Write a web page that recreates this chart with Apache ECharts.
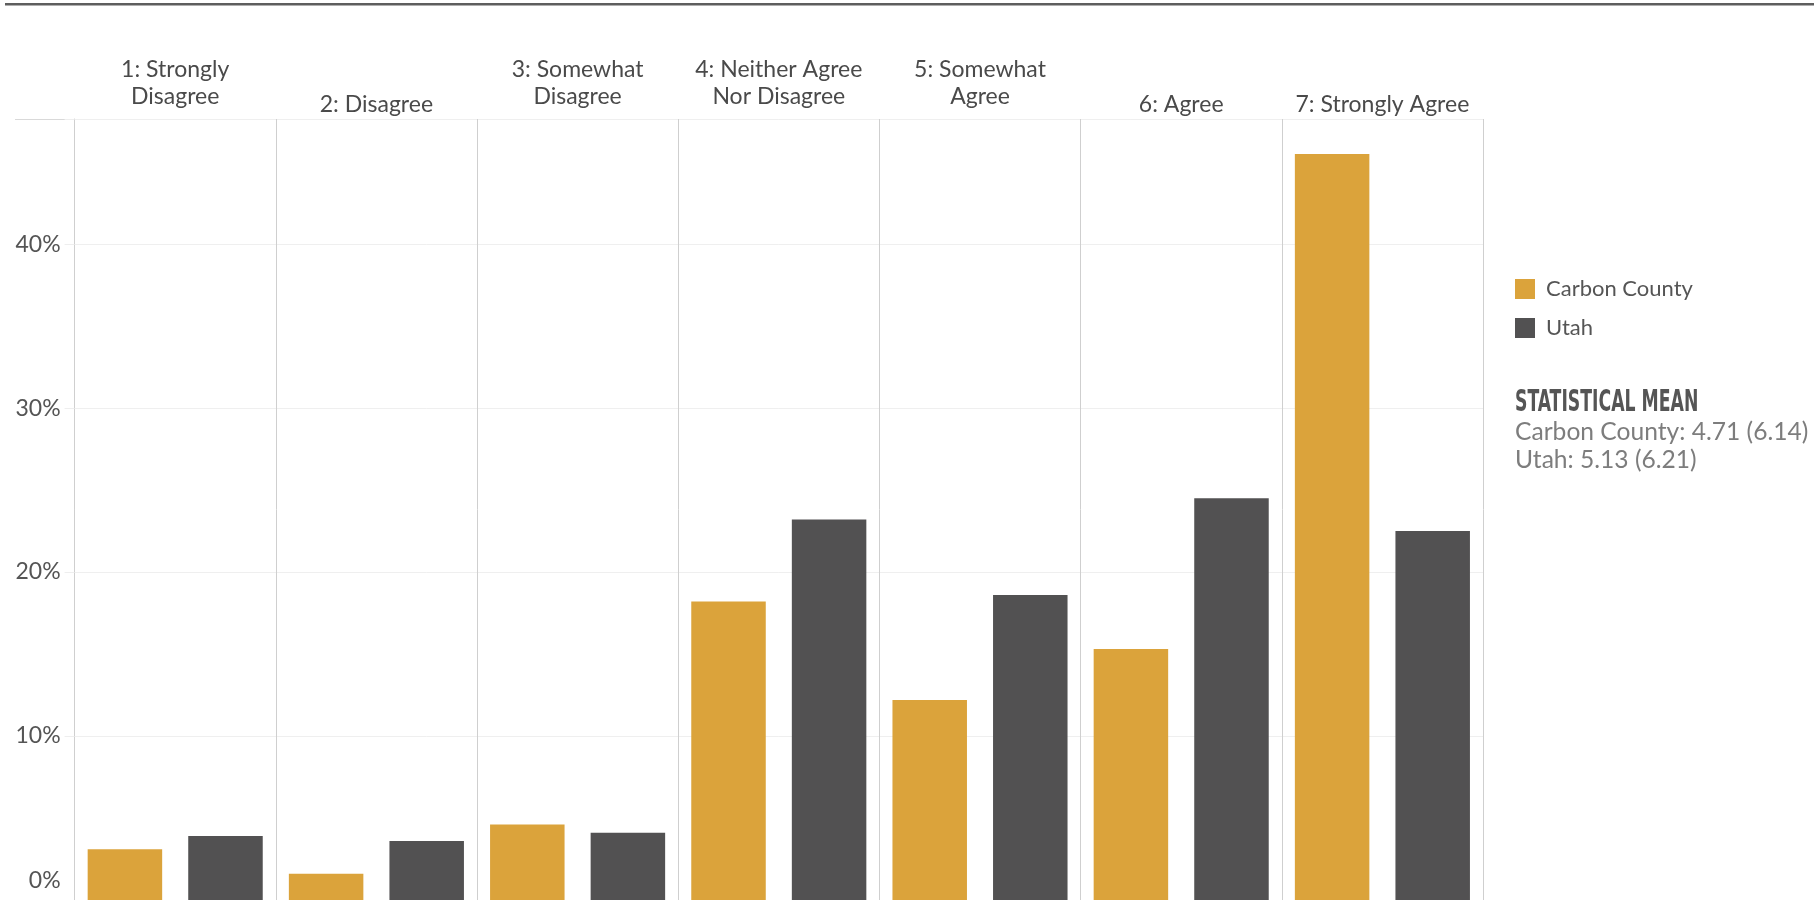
<!DOCTYPE html>
<html>
<head>
<meta charset="utf-8">
<script src="https://cdn.jsdelivr.net/npm/echarts@6/dist/echarts.min.js"></script>
<style>
  html, body { margin: 0; padding: 0; background: #fff; }
  #chart { width: 1814px; height: 900px; }
</style>
</head>
<body>
<div id="chart"></div>
<script>
const categories = [
  '1: Strongly\nDisagree',
  '2: Disagree',
  '3: Somewhat\nDisagree',
  '4: Neither Agree\nNor Disagree',
  '5: Somewhat\nAgree',
  '6: Agree',
  '7: Strongly Agree'
];
const seriesNames = ['Carbon County', 'Utah'];
const carbonCounty = [3.1, 1.6, 4.6, 18.2, 12.2, 15.3, 45.5];
const utah = [3.9, 3.6, 4.1, 23.2, 18.6, 24.5, 22.5];
const yTicks = [0, 10, 20, 30, 40];
const meanTitle = 'STATISTICAL MEAN';
const meanLines = ['Carbon County: 4.71 (6.14)', 'Utah: 5.13 (6.21)'];

const FONT = 'Lato, "Open Sans", sans-serif';
const chart = echarts.init(document.getElementById('chart'), null, { renderer: 'canvas' });

const option = {
  backgroundColor: '#ffffff',
  animation: false,
  color: ['#DBA33B', '#525152'],
  grid: { left: 74.6, right: 331, top: 119, bottom: -4, containLabel: false },
  legend: {
    data: seriesNames,
    orient: 'vertical',
    left: 1515,
    top: 278,
    itemWidth: 20,
    itemHeight: 20,
    itemGap: 17,
    icon: 'rect',
    padding: 0,
    textStyle: { fontFamily: FONT, fontSize: 22, color: '#555', padding: [0, 0, 0, 6] }
  },
  xAxis: {
    type: 'category',
    position: 'top',
    data: categories,
    boundaryGap: true,
    axisLine: { show: true, lineStyle: { color: '#d9d9d9', width: 1 } },
    axisTick: { show: true, length: 77, inside: false, lineStyle: { color: '#cfcfcf', width: 1 } },
    splitLine: { show: true, lineStyle: { color: '#cfcfcf', width: 1 } },
    axisLabel: {
      interval: 0,
      margin: 9,
      color: '#4a4a4a',
      fontFamily: FONT,
      fontSize: 23,
      formatter: function (v) {
        const parts = v.split('\n');
        if (parts.length > 1) return parts.map(p => '{two|' + p + '}').join('\n');
        return '{one|' + v + '}';
      },
      rich: {
        two: { lineHeight: 27, fontFamily: FONT, fontSize: 23, color: '#4a4a4a', align: 'center' },
        one: { lineHeight: 11, fontFamily: FONT, fontSize: 23, color: '#4a4a4a', align: 'center' }
      }
    }
  },
  yAxis: {
    type: 'value',
    min: 0,
    max: 47.63,
    interval: 10,
    axisLine: { show: true, lineStyle: { color: '#cfcfcf', width: 1 } },
    axisTick: { show: true, length: 10, lineStyle: { color: '#eeeeee' } },
    splitLine: { show: true, lineStyle: { color: '#efefef', width: 1 } },
    axisLabel: {
      margin: 14,
      color: '#555',
      fontFamily: FONT,
      fontSize: 23,
      formatter: function (v) {
        if (yTicks.indexOf(Math.round(v * 1000) / 1000) < 0) return '';
        if (v === 0) return '{z|0%}';
        return v + '%';
      },
      rich: {
        z: { fontFamily: FONT, fontSize: 23, color: '#555', padding: [0, 0, 38, 0] }
      }
    }
  },
  series: [
    {
      name: seriesNames[0],
      type: 'bar',
      data: carbonCounty,
      barWidth: 74.5,
      barGap: '35%',
      itemStyle: { color: '#DBA33B' }
    },
    {
      name: seriesNames[1],
      type: 'bar',
      data: utah,
      barWidth: 74.5,
      barGap: '35%',
      itemStyle: { color: '#525152' }
    }
  ],
  graphic: [
    { type: 'rect', shape: { x: 5, y: 3, width: 1809, height: 2.5 }, style: { fill: '#5e5e5e' }, silent: true },
    { type: 'line', shape: { x1: 15, y1: 119.5, x2: 74, y2: 119.5 }, style: { stroke: '#d9d9d9', lineWidth: 1 }, silent: true },
    {
      type: 'text', left: 1515, top: 388, scaleX: 0.64,
      style: { text: meanTitle, fontFamily: '"Liberation Sans Narrow", "DejaVu Sans Condensed", sans-serif', fontWeight: 'bold', fontSize: 30, fill: '#555' }
    },
    {
      type: 'text', left: 1515, top: 420,
      style: { text: meanLines[0], fontFamily: FONT, fontSize: 24.6, fill: '#7d7d7d' }
    },
    {
      type: 'text', left: 1515, top: 448,
      style: { text: meanLines[1], fontFamily: FONT, fontSize: 24.6, fill: '#7d7d7d' }
    }
  ]
};
chart.setOption(option);
</script>
</body>
</html>
